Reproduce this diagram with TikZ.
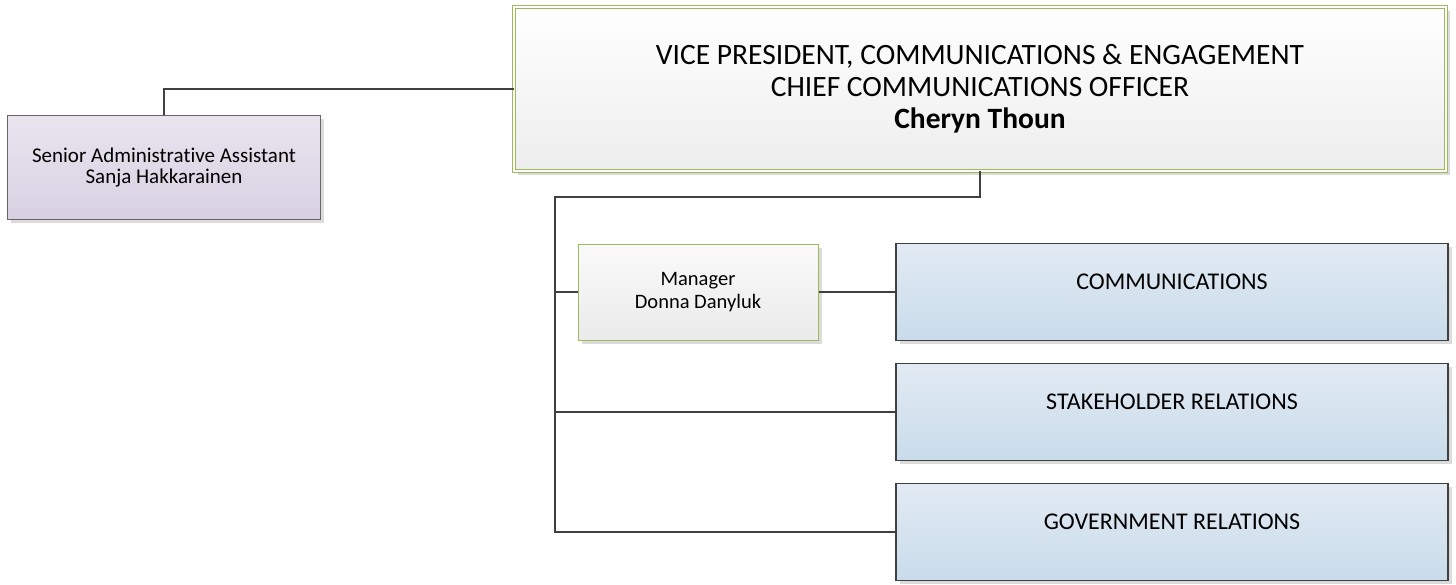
\documentclass[tikz,border=0pt]{standalone}
\usepackage{fontspec}
\setmainfont{Carlito}[Ligatures={NoCommon,NoRare}]
\usetikzlibrary{shadows}

\definecolor{olive}{HTML}{9BBB59}
\definecolor{linegray}{HTML}{404040}

\tikzset{
	boxshadow/.style={drop shadow={shadow xshift=3.5pt, shadow yshift=-3.5pt, fill=black!14, opacity=1}},
	vpbox/.style={draw=olive, line width=0.8pt, double=white, double distance=2.4pt, top color=white, bottom color=black!7, boxshadow, minimum width=932pt, minimum height=164pt, align=center, font=\fontsize{29.5}{32}\selectfont},
	adminbox/.style={draw=black!60, line width=1pt, top color={rgb,255:red,233;green,229;blue,239}, bottom color={rgb,255:red,216;green,208;blue,226}, boxshadow, minimum width=313pt, minimum height=104pt, align=center, font=\fontsize{21}{21.5}\selectfont},
	mgrbox/.style={draw=olive, line width=1pt, top color=black!2, bottom color=black!8, boxshadow, minimum width=240pt, minimum height=96pt, align=center, font=\fontsize{20.5}{22.5}\selectfont},
	deptbox/.style={draw=linegray, line width=1.3pt, top color={rgb,255:red,226;green,234;blue,243}, bottom color={rgb,255:red,201;green,220;blue,235}, boxshadow, minimum width=552pt, minimum height=97pt, text height=17pt, text depth=23pt, font=\fontsize{24}{26}\selectfont},
	link/.style={draw=linegray, line width=1.2pt}
}

\begin{document}
\begin{tikzpicture}[x=1pt, y=-1pt]
		\useasboundingbox (0,0) rectangle (1456,584);
		
		\node[vpbox] (vp) at (980,89) {VICE PRESIDENT, COMMUNICATIONS \& ENGAGEMENT\\CHIEF COMMUNICATIONS OFFICER\\\textbf{Cheryn Thoun}};
		\node[adminbox] (admin) at (164,167.5) {Senior Administrative Assistant\\Sanja Hakkarainen};
		\node[mgrbox] (mgr) at (698,292) {Manager\\Donna Danyluk};
		\node[deptbox] (comm) at (1172,292) {COMMUNICATIONS};
		\node[deptbox] (stake) at (1172,412) {STAKEHOLDER RELATIONS};
		\node[deptbox] (govt) at (1172,532) {GOVERNMENT RELATIONS};
		
		\coordinate (spine) at (555,197);
		
		\draw[link] (admin.north) |- (vp.west);
		\draw[link] (vp.south) |- (spine) |- (govt.west);
		\draw[link] (spine |- mgr.west) -- (mgr.west);
		\draw[link] (mgr.east) -- (comm.west);
		\draw[link] (spine |- stake.west) -- (stake.west);
		
		\end{tikzpicture}
\end{document}
